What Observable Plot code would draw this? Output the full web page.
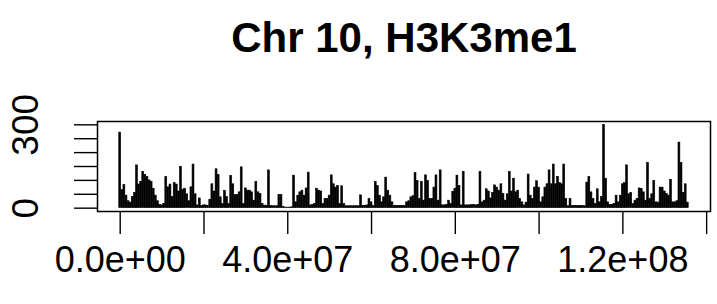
<!DOCTYPE html>
<html><head><meta charset="utf-8">
<script src="https://cdn.jsdelivr.net/npm/d3@7"></script>
<script src="https://cdn.jsdelivr.net/npm/@observablehq/plot@0.6"></script>
<style>html,body{margin:0;padding:0;background:#fff}svg{display:block}</style>
</head><body><div id="chart"></div>
<script>
const chartTitle = "Chr 10, H3K3me1";
const binStart = 0;
const binSize = 5e5;
const signal = [
272,65,83,45,25,20,40,55,154,85,
95,130,120,112,100,95,70,45,25,12,
10,15,112,75,85,40,90,85,60,149,
65,70,50,25,75,157,50,10,35,8,
10,10,8,30,86,60,140,120,39,15,
62,40,15,116,86,47,47,57,147,15,
71,63,63,57,27,95,57,51,15,9,
9,136,8,7,7,7,48,47,5,2,
2,2,3,117,21,45,57,63,45,71,
128,10,12,15,70,63,60,15,33,33,
45,118,86,74,80,15,79,15,7,7,
7,7,7,7,7,46,8,8,10,33,
21,8,95,80,45,21,39,110,63,45,
21,8,8,8,8,8,8,21,25,39,
43,126,98,33,95,27,118,98,33,33,
74,118,27,136,10,10,12,27,15,58,
70,117,80,10,131,10,10,10,11,11,
10,12,131,21,27,68,60,35,55,82,
74,63,86,51,27,50,130,60,106,57,
63,33,21,10,20,121,45,33,74,97,
74,21,39,74,86,136,86,157,86,113,
90,86,157,33,7,33,8,8,8,8,
8,8,7,92,112,57,33,15,68,21,
40,300,106,21,12,12,15,45,21,45,
86,90,154,50,54,15,27,33,71,69,
57,27,163,33,50,98,21,20,74,74,
60,51,45,102,21,21,25,236,163,55,
86,20
];
const xTicks = [0, 2e7, 4e7, 6e7, 8e7, 1e8, 1.2e8, 1.4e8];
const xLabelAt = [0, 4e7, 8e7, 1.2e8];
const xLabels = ["0.0e+00", "4.0e+07", "8.0e+07", "1.2e+08"];
const yTicks = [0, 50, 100, 150, 200, 250, 300];
const yLabelAt = [0, 300];
const yLabels = ["0", "300"];

const data = signal.map((v, i) => ({pos: binStart + i * binSize, v}));
const xMax = d3.max(data, d => d.pos), yMax = d3.max(signal);
const xPad = 0.04 * xMax, yPad = 0.04 * yMax;

const chart = Plot.plot({
  width: 717, height: 304,
  marginLeft: 97, marginRight: 7, marginTop: 121, marginBottom: 93,
  style: {fontFamily: "'Liberation Sans', Arial, Helvetica, sans-serif", background: "#fff", color: "#000"},
  x: {domain: [-xPad, xMax + xPad]},
  y: {domain: [-yPad, yMax + yPad]},
  marks: [
    Plot.rectY(data, {x1: d => d.pos - binSize * 0.45, x2: d => d.pos + binSize * 0.45, y1: 0, y2: "v",
      fill: "#000", stroke: "#000", strokeWidth: 0.6}),
    Plot.frame({stroke: "#000", strokeWidth: 1.5}),
    Plot.axisX({ticks: xTicks, tickSize: 23, tickPadding: 12, strokeWidth: 1.4, fontSize: 36, label: null,
      tickFormat: d => { const k = xLabelAt.indexOf(d); return k >= 0 ? xLabels[k] : ""; }}),
    Plot.axisY({ticks: yTicks, tickSize: 23, strokeWidth: 1.4, label: null, tickFormat: () => ""}),
    Plot.text(yLabelAt, {y: d => d, text: (d, i) => yLabels[i], frameAnchor: "left", dx: -71, rotate: -90,
      fontSize: 37, textAnchor: "middle", lineAnchor: "middle", fill: "#000"}),
    Plot.text([chartTitle], {frameAnchor: "top", dy: -83, fontSize: 42, fontWeight: "bold",
      lineAnchor: "middle", textAnchor: "middle", fill: "#000"})
  ]
});
document.getElementById("chart").appendChild(chart);
</script>
</body></html>
